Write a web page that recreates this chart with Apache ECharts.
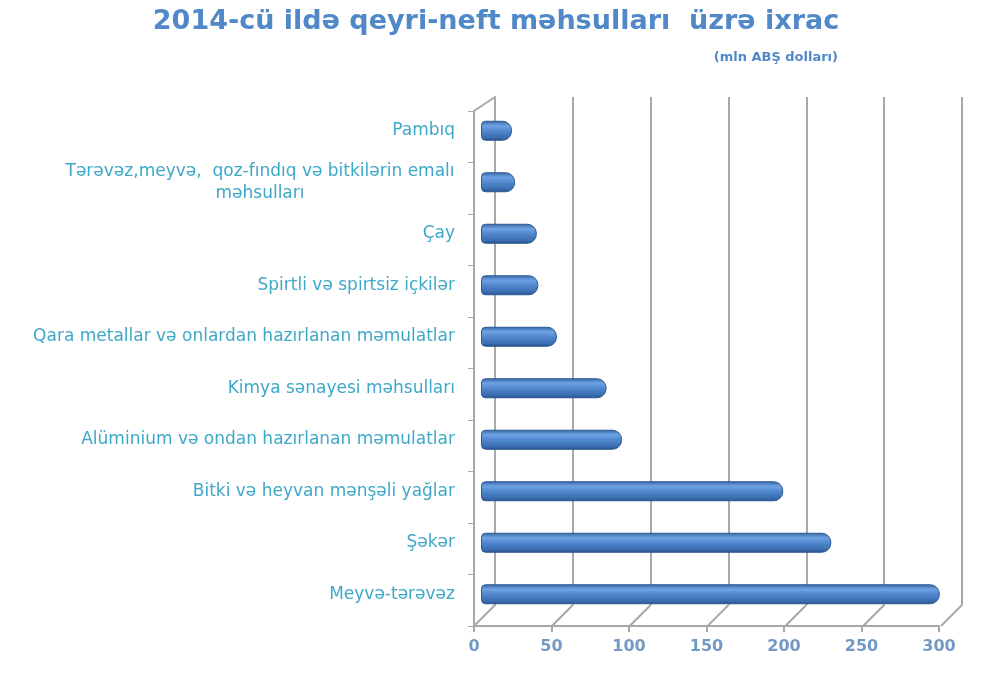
<!DOCTYPE html>
<html><head><meta charset="utf-8">
<script src="https://cdn.jsdelivr.net/npm/echarts@6/dist/echarts.min.js"></script>
<style>html,body{margin:0;padding:0;background:#fff}#c{width:992px;height:675px}</style>
</head><body><div id="c"></div>
<script>
const titleText = '2014-cü ildə qeyri-neft məhsulları  üzrə ixrac';
const subtitleText = '(mln ABŞ dolları)';
const categories = [
  'Pambıq',
  'Tərəvəz,meyvə,  qoz-fındıq və bitkilərin emalı\nməhsulları',
  'Çay',
  'Spirtli və spirtsiz içkilər',
  'Qara metallar və onlardan hazırlanan məmulatlar',
  'Kimya sənayesi məhsulları',
  'Alüminium və ondan hazırlanan məmulatlar',
  'Bitki və heyvan mənşəli yağlar',
  'Şəkər',
  'Meyvə-tərəvəz'
];
const values = [20, 22, 36, 37, 49, 81, 91, 195, 226, 296];
const xTicks = [0, 50, 100, 150, 200, 250, 300];

const labelSize = 17;
const ctx = document.createElement('canvas').getContext('2d');
ctx.font = labelSize + 'px "DejaVu Sans"';
function fmt(v) {
  if (v.indexOf('\n') < 0) return v;
  return v.split('\n').map(l => '{c|' + l + '}').join('\n');
}
function maxW(v){ return Math.max(...v.split('\n').map(l => ctx.measureText(l).width)); }
const multiW = Math.ceil(Math.max(...categories.filter(c=>c.includes('\n')).map(maxW)));

const chart = echarts.init(document.getElementById('c'));
chart.setOption({
  backgroundColor: '#fff',
  animation: false,
  title: [
    {text: titleText, left: 'center', top: 3,
     textStyle: {fontFamily: '"DejaVu Sans"', fontWeight: 'bold', fontSize: 27, color: '#5088c8'}},
    {text: subtitleText, right: 149, top: 46,
     textStyle: {fontFamily: '"DejaVu Sans"', fontWeight: 'bold', fontSize: 13, color: '#5088c8'}}
  ],
  grid: [
    {left: 481, right: 46, top: 105, bottom: 55},
    {left: 495, right: 30, top: 97, bottom: 70},
    {left: 474, right: 53, top: 111, bottom: 49}
  ],
  xAxis: [
    {gridIndex: 0, type: 'value', min: 0, max: 300, interval: 50, show: false},
    {gridIndex: 1, type: 'value', min: 0, max: 300, interval: 50,
     axisLine: {show: false}, axisTick: {show: false}, axisLabel: {show: false},
     splitLine: {show: true, lineStyle: {color: '#a8a8a8', width: 2}}},
    {gridIndex: 2, type: 'value', min: 0, max: 300, interval: 50,
     axisLine: {show: true, lineStyle: {color: '#a8a8a8', width: 2}},
     axisTick: {show: true, length: 6, lineStyle: {color: '#a8a8a8', width: 2}},
     splitLine: {show: false},
     axisLabel: {show: true, margin: 13, color: '#7399c4', fontFamily: '"DejaVu Sans"', fontWeight: 'bold', fontSize: 16,
       formatter: v => xTicks.includes(v) ? String(v) : ''}}
  ],
  yAxis: [
    {gridIndex: 0, type: 'category', data: categories, inverse: true,
     axisLine: {show: false}, axisTick: {show: false}, splitLine: {show: false},
     axisLabel: {margin: 26, color: '#3ea8c8', fontFamily: '"DejaVu Sans"', fontSize: labelSize, lineHeight: 22,
       formatter: fmt, rich: {c: {width: multiW, align: 'center', color: '#3ea8c8', fontFamily: '"DejaVu Sans"', fontSize: labelSize, lineHeight: 22}}}},
    {gridIndex: 1, type: 'value', min: 0, max: 1,
     axisLine: {show: true, lineStyle: {color: '#a8a8a8', width: 2}},
     axisTick: {show: false}, axisLabel: {show: false}, splitLine: {show: false}},
    {gridIndex: 2, type: 'category', data: categories, inverse: true,
     axisLine: {show: true, lineStyle: {color: '#a8a8a8', width: 2}},
     axisTick: {show: true, length: 6, lineStyle: {color: '#a8a8a8', width: 1}},
     axisLabel: {show: false}, splitLine: {show: false}}
  ],
  series: [
    {type: 'custom', xAxisIndex: 1, yAxisIndex: 1, silent: true, z: 1,
     data: xTicks.map(t => [t, 0]).concat([[0, 1]]),
     renderItem: function (params, api) {
       const p = api.coord([api.value(0), api.value(1)]);
       const top = api.value(1) === 1;
       return {type: 'line', shape: {x1: p[0], y1: p[1], x2: p[0] - 21, y2: p[1] + (top ? 14 : 21)},
               style: {stroke: '#a8a8a8', lineWidth: 2}};
     }},
    {type: 'bar', xAxisIndex: 0, yAxisIndex: 0, data: values, barWidth: 20, z: 3,
     itemStyle: {
       borderRadius: [4, 9, 9, 4],
       borderColor: '#2a5892', borderWidth: 1,
       color: new echarts.graphic.LinearGradient(0, 0, 0, 1, [
         {offset: 0, color: '#3566a6'},
         {offset: 0.25, color: '#6fa2e2'},
         {offset: 0.5, color: '#5088cf'},
         {offset: 0.85, color: '#3a6cae'},
         {offset: 1, color: '#244d86'}
       ])
     }}
  ]
});
</script></body></html>
